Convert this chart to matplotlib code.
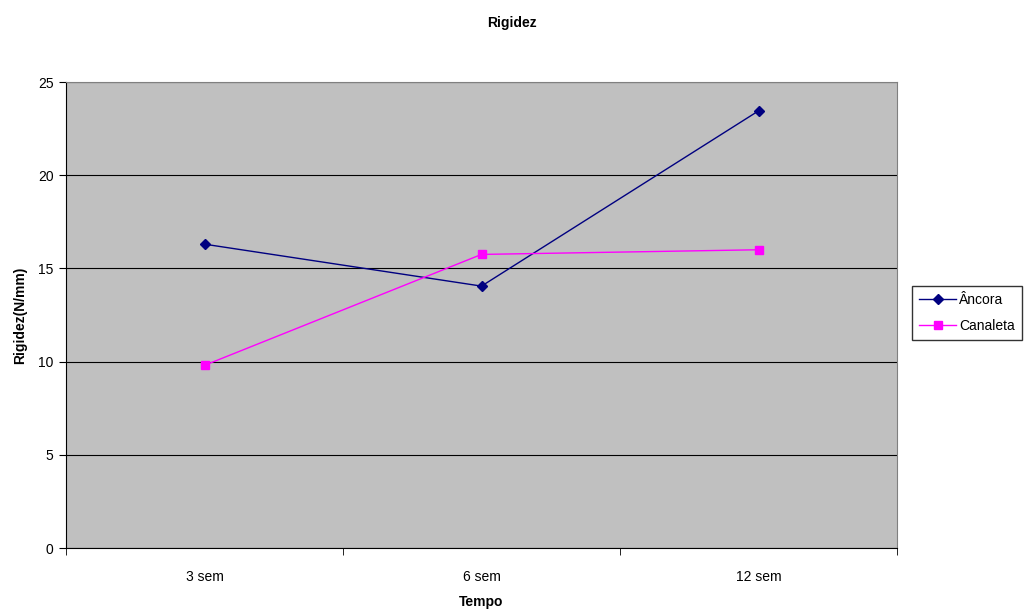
import matplotlib.pyplot as plt
import numpy as np
from matplotlib.ticker import FixedLocator, NullFormatter

plt.rcParams['font.family'] = ['Liberation Sans', 'DejaVu Sans']

categories = ['3 sem', '6 sem', '12 sem']
ancora = [16.3, 14.05, 23.45]
canaleta = [9.8, 15.75, 16.0]

fig = plt.figure(figsize=(10.25, 6.09), dpi=100)
ax = fig.add_axes([66 / 1025, 61 / 609, 831 / 1025, 466 / 609])
ax.set_facecolor('#c0c0c0')

x = np.arange(len(categories))
ax.plot(x, ancora, color='#000080', marker='D', markersize=5, linewidth=1, label='Âncora', zorder=3)
ax.plot(x, canaleta, color='#ff00ff', marker='s', markersize=6, linewidth=1, label='Canaleta', zorder=3)

ax.set_xlim(-0.5, len(categories) - 0.5)
ax.set_ylim(0, 25)
ax.set_yticks(np.arange(0, 26, 5))
ax.yaxis.grid(True, color='black', linewidth=0.8)
ax.set_axisbelow(True)

ax.set_xticks(x)
ax.set_xticklabels(categories)
ax.xaxis.set_minor_locator(FixedLocator(np.arange(-0.5, len(categories), 1.0)))
ax.xaxis.set_minor_formatter(NullFormatter())
ax.tick_params(axis='x', which='major', length=0, pad=16, labelsize=10)
ax.tick_params(axis='x', which='minor', length=5, direction='out', color='black')
ax.tick_params(axis='y', length=5, direction='out', labelsize=10, pad=4)

for side in ['top', 'right']:
    ax.spines[side].set_color('#808080')
for side in ['left', 'bottom']:
    ax.spines[side].set_color('black')

fig.text(512 / 1025, 1 - 23 / 609, 'Rigidez', fontsize=10, fontweight='bold', ha='center', va='center')
ax.set_xlabel('Tempo', fontsize=10, fontweight='bold', labelpad=8)
ax.set_ylabel('Rigidez(N/mm)', fontsize=10, fontweight='bold', labelpad=8)

leg = ax.legend(loc='center left', bbox_to_anchor=(912 / 1025, 1 - 313 / 609), bbox_transform=fig.transFigure,
                frameon=True, fancybox=False, fontsize=10, borderpad=0.5, handlelength=2.7,
                handletextpad=0.2, labelspacing=0.9, borderaxespad=0)
leg.get_frame().set_edgecolor('black')
leg.get_frame().set_linewidth(1)

fig.savefig('out.png', dpi=100)
